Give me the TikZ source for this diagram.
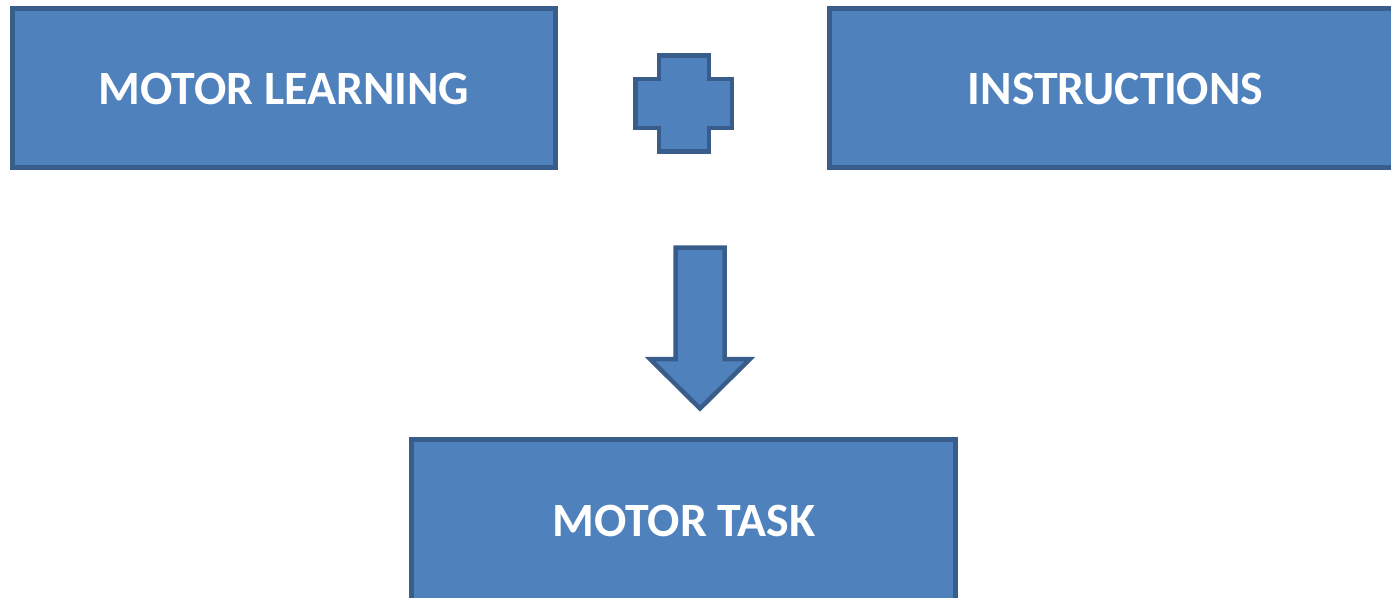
\documentclass[tikz,border=0pt]{standalone}
\usepackage{fontspec}
\setmainfont{Carlito}
\definecolor{boxfill}{HTML}{4F81BD}
\definecolor{boxline}{HTML}{385D8A}
\begin{document}
\begin{tikzpicture}[x=1pt,y=-1pt,
  shapestyle/.style={fill=boxfill,draw=boxline,line width=4.5pt,line join=miter},
  boxlabel/.style={text=white,font=\bfseries\fontsize{47.8}{56}\selectfont}]
\useasboundingbox (0,0) rectangle (1391,597);
\clip (0,0) rectangle (1391,597);
% boxes
\draw[shapestyle] (12.5,8.5) rectangle (555.5,167.5);
\node[boxlabel] (ml) at (284,89) {MOTOR LEARNING};
\draw[shapestyle] (829.5,8.5) rectangle (1402,167.5);
\node[boxlabel] (ins) at (1115.5,89) {INSTRUCTIONS};
\draw[shapestyle] (411.5,439.5) rectangle (955.5,620);
\node[boxlabel] (mt) at (684,521) {MOTOR TASK};
% plus
\draw[shapestyle] (659,55.5) -- (709,55.5) -- (709,79) -- (732,79) -- (732,128) -- (709,128) -- (709,151.5) -- (659,151.5) -- (659,128) -- (635.5,128) -- (635.5,79) -- (659,79) -- cycle;
% down arrow
\draw[shapestyle] (675.5,247.5) -- (724.5,247.5) -- (724.5,359) -- (750,359) -- (700,408.5) -- (650,359) -- (675.5,359) -- cycle;
\end{tikzpicture}
\end{document}
